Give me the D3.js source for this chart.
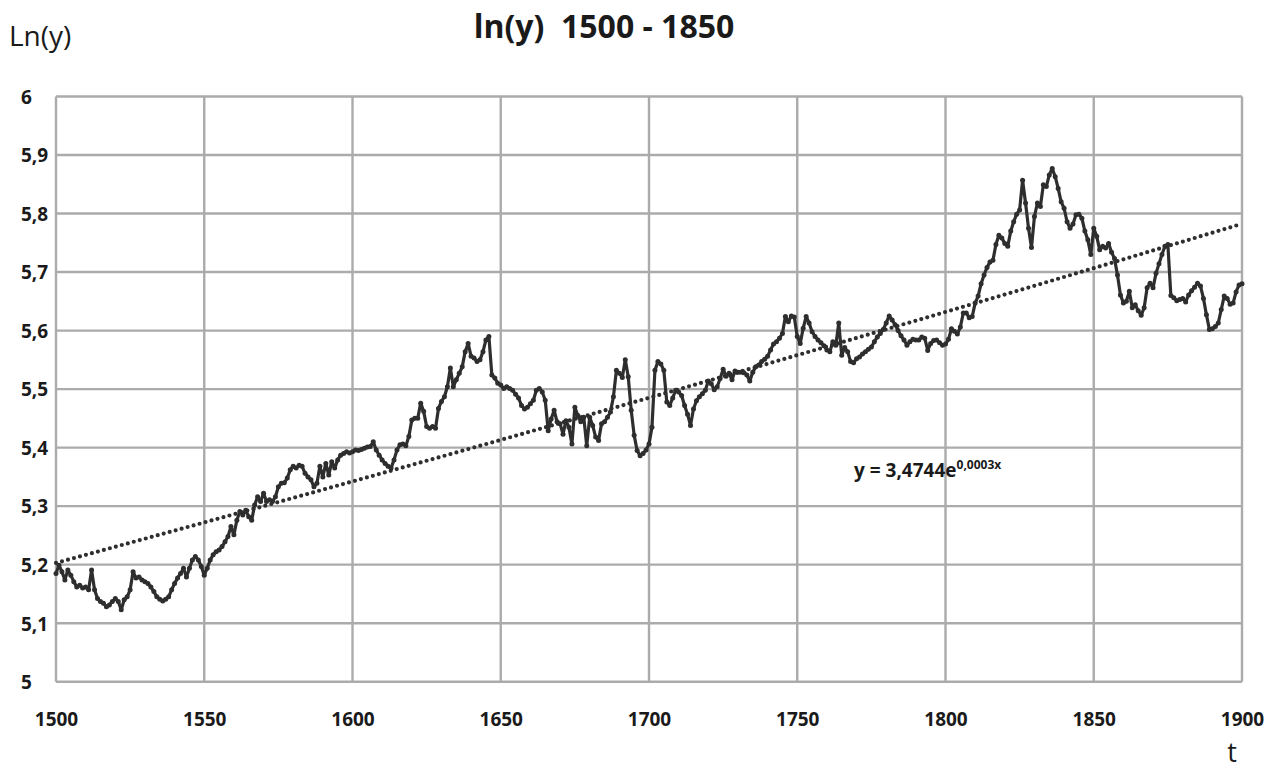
<!DOCTYPE html>
<html>
<head>
<meta charset="utf-8">
<script src="https://cdn.jsdelivr.net/npm/d3@7"></script>
<style>
  html, body { margin: 0; padding: 0; background: #fff; }
  svg { display: block; }
  text { white-space: pre; }
</style>
</head>
<body>
<svg id="chart" width="1277" height="771"></svg>
<script>
// Log of the series, one value per year from 1500 to 1900
const firstYear = 1500;
const lnY = [
  5.185, 5.199, 5.188, 5.174, 5.191, 5.182, 5.171, 5.162, 5.165, 5.160,
  5.162, 5.157, 5.191, 5.157, 5.142, 5.137, 5.134, 5.128, 5.131, 5.137,
  5.142, 5.137, 5.123, 5.140, 5.145, 5.157, 5.188, 5.177, 5.179, 5.174,
  5.171, 5.168, 5.162, 5.154, 5.145, 5.141, 5.138, 5.141, 5.145, 5.157,
  5.168, 5.177, 5.185, 5.194, 5.179, 5.194, 5.208, 5.214, 5.208, 5.197,
  5.182, 5.194, 5.208, 5.217, 5.222, 5.225, 5.231, 5.239, 5.248, 5.265,
  5.251, 5.276, 5.291, 5.285, 5.293, 5.282, 5.276, 5.302, 5.316, 5.308,
  5.322, 5.308, 5.311, 5.308, 5.316, 5.333, 5.339, 5.340, 5.348, 5.362,
  5.368, 5.365, 5.370, 5.368, 5.356, 5.350, 5.345, 5.333, 5.339, 5.368,
  5.350, 5.373, 5.353, 5.376, 5.365, 5.379, 5.387, 5.390, 5.393, 5.391,
  5.393, 5.396, 5.395, 5.397, 5.399, 5.401, 5.402, 5.410, 5.396, 5.387,
  5.379, 5.373, 5.368, 5.365, 5.379, 5.396, 5.405, 5.406, 5.403, 5.419,
  5.447, 5.450, 5.450, 5.476, 5.462, 5.436, 5.433, 5.436, 5.433, 5.467,
  5.479, 5.487, 5.504, 5.536, 5.504, 5.516, 5.527, 5.538, 5.564, 5.578,
  5.556, 5.553, 5.547, 5.550, 5.564, 5.584, 5.590, 5.524, 5.519, 5.510,
  5.507, 5.501, 5.504, 5.501, 5.498, 5.491, 5.485, 5.472, 5.466, 5.469,
  5.475, 5.481, 5.498, 5.501, 5.495, 5.481, 5.429, 5.449, 5.464, 5.444,
  5.441, 5.423, 5.446, 5.435, 5.406, 5.469, 5.455, 5.444, 5.452, 5.403,
  5.452, 5.438, 5.418, 5.412, 5.441, 5.444, 5.452, 5.461, 5.487, 5.532,
  5.527, 5.520, 5.550, 5.521, 5.464, 5.421, 5.395, 5.386, 5.390, 5.396,
  5.406, 5.435, 5.532, 5.547, 5.543, 5.532, 5.478, 5.472, 5.485, 5.498,
  5.495, 5.489, 5.472, 5.457, 5.438, 5.466, 5.480, 5.487, 5.492, 5.498,
  5.514, 5.509, 5.499, 5.504, 5.518, 5.534, 5.522, 5.527, 5.516, 5.531,
  5.529, 5.529, 5.528, 5.524, 5.514, 5.529, 5.538, 5.541, 5.547, 5.551,
  5.556, 5.567, 5.577, 5.581, 5.587, 5.595, 5.624, 5.615, 5.625, 5.623,
  5.590, 5.578, 5.604, 5.624, 5.613, 5.598, 5.590, 5.584, 5.579, 5.574,
  5.567, 5.564, 5.581, 5.575, 5.613, 5.558, 5.571, 5.564, 5.547, 5.545,
  5.552, 5.555, 5.560, 5.564, 5.568, 5.572, 5.581, 5.589, 5.595, 5.602,
  5.613, 5.625, 5.618, 5.610, 5.600, 5.591, 5.584, 5.575, 5.581, 5.585,
  5.584, 5.584, 5.589, 5.587, 5.566, 5.578, 5.583, 5.584, 5.579, 5.575,
  5.577, 5.585, 5.603, 5.599, 5.594, 5.606, 5.630, 5.630, 5.622, 5.624,
  5.647, 5.659, 5.680, 5.695, 5.708, 5.717, 5.720, 5.747, 5.763, 5.758,
  5.749, 5.744, 5.770, 5.786, 5.799, 5.806, 5.857, 5.818, 5.775, 5.742,
  5.795, 5.818, 5.812, 5.849, 5.846, 5.866, 5.877, 5.863, 5.843, 5.820,
  5.809, 5.786, 5.775, 5.782, 5.798, 5.799, 5.792, 5.770, 5.755, 5.730,
  5.775, 5.761, 5.738, 5.744, 5.741, 5.749, 5.734, 5.723, 5.695, 5.661,
  5.647, 5.650, 5.667, 5.639, 5.644, 5.634, 5.626, 5.639, 5.673, 5.681,
  5.673, 5.698, 5.714, 5.730, 5.744, 5.747, 5.660, 5.656, 5.651, 5.653,
  5.655, 5.649, 5.661, 5.668, 5.674, 5.681, 5.676, 5.655, 5.627, 5.602,
  5.603, 5.607, 5.613, 5.636, 5.659, 5.655, 5.645, 5.647, 5.666, 5.678,
  5.680
];

// Exponential trend: value at the first year and yearly growth rate
const trendStart = 5.203;
const trendRate = 0.000264;

// Axis ticks and labels
const xTicks = [1500, 1550, 1600, 1650, 1700, 1750, 1800, 1850, 1900];
const yTicks = [5, 5.1, 5.2, 5.3, 5.4, 5.5, 5.6, 5.7, 5.8, 5.9, 6];
const yTickLabels = ["5", "5,1", "5,2", "5,3", "5,4", "5,5", "5,6", "5,7", "5,8", "5,9", "6"];
const titleText = "ln(y)  1500 - 1850";
const yAxisTitle = "Ln(y)";
const xAxisTitle = "t";
const equationMain = "y = 3,4744e";
const equationExp = "0,0003x";

const series = lnY.map((v, i) => ({ t: firstYear + i, v }));

const svg = d3.select("#chart");
const plot = { left: 56, right: 1242, top: 96.5, bottom: 681.7 };

const x = d3.scaleLinear().domain([1500, 1900]).range([plot.left, plot.right]);
const y = d3.scaleLinear().domain([5, 6]).range([plot.bottom, plot.top]);

const gridColor = "#ababab";
const inkColor = "#2e2e2e";

// Grid
const grid = svg.append("g");
grid.selectAll("line.h").data(yTicks).join("line")
  .attr("x1", plot.left).attr("x2", plot.right)
  .attr("y1", d => y(d)).attr("y2", d => y(d))
  .attr("stroke", gridColor).attr("stroke-width", 2.4);
grid.selectAll("line.v").data(xTicks).join("line")
  .attr("y1", plot.top).attr("y2", plot.bottom)
  .attr("x1", d => x(d)).attr("x2", d => x(d))
  .attr("stroke", gridColor).attr("stroke-width", 2.4);

// Tick labels
const xAxis = d3.axisBottom(x).tickValues(xTicks).tickSize(0).tickPadding(0).tickFormat(d3.format("d"));
const gx = svg.append("g").attr("transform", `translate(0, ${plot.bottom})`).call(xAxis);
gx.select(".domain").remove();
gx.selectAll("text")
  .attr("y", 44).attr("dy", null)
  .attr("font-family", "'Open Sans', sans-serif")
  .attr("font-weight", "bold").attr("font-size", 19)
  .attr("fill", "#1a1a1a");

const yAxis = d3.axisLeft(y).tickValues(yTicks).tickSize(0).tickPadding(0)
  .tickFormat((d, i) => yTickLabels[i]);
const gy = svg.append("g").attr("transform", "translate(21, 0)").call(yAxis);
gy.select(".domain").remove();
gy.selectAll("text")
  .attr("x", 0).attr("dy", "0.36em")
  .attr("text-anchor", "start")
  .attr("font-family", "'Open Sans', sans-serif")
  .attr("font-weight", "bold").attr("font-size", 19)
  .attr("fill", "#1a1a1a");

// Trend line, drawn as round dots
const trend = d3.range(1500, 1901, 2).map(t => ({ t, v: trendStart * Math.exp(trendRate * (t - 1500)) }));
svg.append("path")
  .datum(trend)
  .attr("d", d3.line().x(d => x(d.t)).y(d => y(d.v)))
  .attr("fill", "none")
  .attr("stroke", inkColor)
  .attr("stroke-width", 4.2)
  .attr("stroke-linecap", "round")
  .attr("stroke-dasharray", "0 6.2");

// Yearly series with point markers
svg.append("path")
  .datum(series)
  .attr("d", d3.line().x(d => x(d.t)).y(d => y(d.v)))
  .attr("fill", "none")
  .attr("stroke", inkColor)
  .attr("stroke-width", 3.2)
  .attr("stroke-linejoin", "round");
svg.append("g").selectAll("circle").data(series).join("circle")
  .attr("cx", d => x(d.t)).attr("cy", d => y(d.v)).attr("r", 2.5)
  .attr("fill", inkColor);

// Titles
svg.append("text")
  .attr("x", 604).attr("y", 38)
  .attr("text-anchor", "middle")
  .attr("font-family", "'Open Sans', sans-serif")
  .attr("font-weight", "bold").attr("font-size", 32)
  .attr("fill", "#1a1a1a")
  .text(titleText);

svg.append("text")
  .attr("x", 9).attr("y", 46)
  .attr("font-family", "'Open Sans', sans-serif")
  .attr("font-size", 28)
  .attr("fill", "#1a1a1a")
  .text(yAxisTitle);

svg.append("text")
  .attr("x", 1232).attr("y", 762)
  .attr("text-anchor", "middle")
  .attr("font-family", "'Open Sans', sans-serif")
  .attr("font-size", 27)
  .attr("fill", "#1a1a1a")
  .text(xAxisTitle);

// Trend equation
const eq = svg.append("text")
  .attr("x", 854).attr("y", 477)
  .attr("font-family", "'Open Sans', sans-serif")
  .attr("font-weight", "bold").attr("font-size", 19)
  .attr("fill", "#1a1a1a");
eq.append("tspan").text(equationMain);
eq.append("tspan").attr("font-size", 12).attr("dy", -8).text(equationExp);
</script>
</body>
</html>
